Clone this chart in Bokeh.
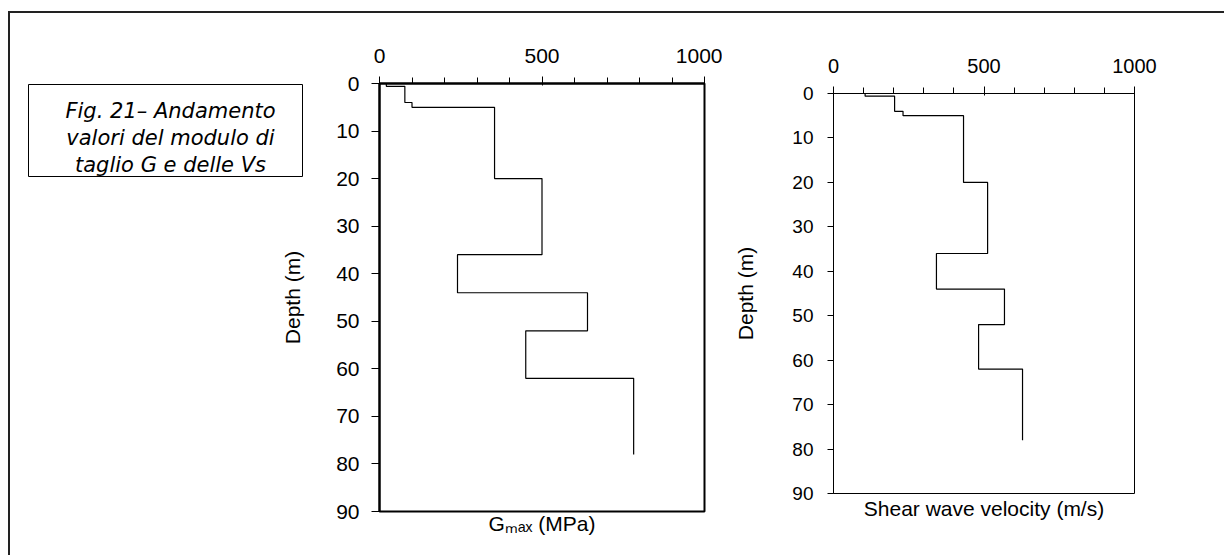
import math
from bokeh.plotting import figure
from bokeh.models import Range1d, SingleIntervalTicker, FixedTicker, LinearAxis, Row
from bokeh.core.properties import value
from bokeh.embed import file_html
from bokeh.resources import INLINE

# ---- data ----
layer_top = [0, 0.6, 4, 5, 20, 36, 44, 52, 62]
layer_bottom = [0.6, 4, 5, 20, 36, 44, 52, 62, 78]
gmax_mpa = [21, 78, 100, 354, 500, 240, 640, 450, 782]
vs_ms = [105, 203, 231, 432, 512, 342, 568, 482, 628]

x_range_vals = [0, 1000]
depth_range_vals = [90, 0]
depth_label = "Depth (m)"
gmax_label = "G\u2098\u2090\u2093 (MPa)"
vs_label = "Shear wave velocity (m/s)"
caption_lines = ["Fig. 21\u2013 Andamento", "valori del modulo di", "taglio G e delle Vs"]

FONT = "Liberation Sans"
TOP = 70
BOTTOM = 44


def profile_path(values):
    xs, ys = [], []
    for t, b, v in zip(layer_top, layer_bottom, values):
        xs += [v, v]
        ys += [t, b]
    return xs, ys


def make_panel(width, height, mb_left, mb_right, lw, tick_font, ytick_font,
               y_tick_out, y_standoff, ylabel, ylabel_standoff, xlabel, xlabel_standoff):
    p = figure(width=width, height=height,
               x_range=Range1d(*x_range_vals), y_range=Range1d(*depth_range_vals),
               x_axis_location="above", output_backend="svg", toolbar_location=None,
               min_border_left=mb_left, min_border_right=mb_right,
               min_border_top=TOP, min_border_bottom=BOTTOM)
    p.xgrid.visible = False
    p.ygrid.visible = False
    p.outline_line_color = "black"
    p.outline_line_width = lw
    p.outline_line_alpha = 1
    p.background_fill_color = "white"
    p.border_fill_color = "white"

    xa = p.xaxis[0]
    xa.ticker = SingleIntervalTicker(interval=500, num_minor_ticks=5)
    xa.major_tick_out = 7
    xa.major_tick_in = 2
    xa.minor_tick_out = 6
    xa.minor_tick_in = 0
    xa.major_tick_line_color = "black"
    xa.minor_tick_line_color = "black"
    xa.axis_line_color = "black"
    xa.axis_line_width = lw
    xa.major_label_standoff = 14
    xa.major_label_text_font = FONT
    xa.major_label_text_font_size = tick_font
    xa.major_label_text_color = "black"

    ya = p.yaxis[0]
    ya.ticker = SingleIntervalTicker(interval=10, num_minor_ticks=0)
    ya.major_tick_out = y_tick_out
    ya.major_tick_in = 0
    ya.minor_tick_line_color = None
    ya.major_tick_line_color = "black"
    ya.axis_line_color = "black"
    ya.axis_line_width = lw
    ya.major_label_standoff = y_standoff
    ya.major_label_text_font = FONT
    ya.major_label_text_font_size = ytick_font
    ya.major_label_text_color = "black"
    if ylabel:
        ya.axis_label = ylabel
        ya.axis_label_text_font = FONT
        ya.axis_label_text_font_size = "21px"
        ya.axis_label_text_font_style = "normal"
        ya.axis_label_text_color = "black"
        ya.axis_label_standoff = ylabel_standoff

    xb = LinearAxis(ticker=FixedTicker(ticks=[]), axis_label=xlabel)
    xb.axis_line_color = None
    xb.major_tick_line_color = None
    xb.minor_tick_line_color = None
    xb.major_tick_out = 0
    xb.major_label_standoff = 0
    xb.axis_label_standoff = xlabel_standoff
    xb.axis_label_text_font = FONT
    xb.axis_label_text_font_size = "21px"
    xb.axis_label_text_font_style = "normal"
    xb.axis_label_text_color = "black"
    p.add_layout(xb, "below")
    return p


# ---- caption panel (text box + left depth title) ----
cap_w, cap_h = 300, 542
pC = figure(width=cap_w, height=cap_h, x_range=Range1d(0, cap_w),
            y_range=Range1d(cap_h - TOP - BOTTOM, 0),
            x_axis_type=None, y_axis_type=None,
            output_backend="svg", toolbar_location=None,
            min_border_left=0, min_border_right=0,
            min_border_top=TOP, min_border_bottom=BOTTOM)
pC.grid.visible = False
pC.outline_line_color = None
pC.background_fill_color = "white"
pC.border_fill_color = "white"
pC.quad(left=[18], right=[292], top=[1], bottom=[93],
        fill_color="white", line_color="black", line_width=1)
pC.text(x=[160] * len(caption_lines), y=[27, 54, 81], text=caption_lines,
        text_font=value("DejaVu Sans"), text_font_size="21px",
        text_font_style="italic", text_align="center",
        text_baseline="alphabetic", text_color="black")
pC.text(x=[282], y=[214], text=[depth_label], angle=math.pi / 2,
        text_font=value(FONT), text_font_size="21px",
        text_align="center", text_baseline="middle", text_color="black")

# ---- left panel: G max ----
pL = make_panel(412, 542, 69, 18, 2, "21px", "21px", 8, 12, None, 0, gmax_label, 0)
xs, ys = profile_path(gmax_mpa)
pL.line(xs, ys, line_color="black", line_width=1.2)

# ---- right panel: Vs ----
pR = make_panel(502, 514, 111, 90, 1, "20px", "19px", 6, 14, depth_label, 32, vs_label, 3)
pR.margin = (10, 0, 0, 0)
xs, ys = profile_path(vs_ms)
pR.line(xs, ys, line_color="black", line_width=1.2)

layout = Row(children=[pC, pL, pR], spacing=0,
             styles={"border-top": "2px solid #222", "border-left": "2px solid #222",
                     "margin-top": "11px", "margin-left": "8px"})

open("out.html", "w").write(file_html(layout, INLINE))
